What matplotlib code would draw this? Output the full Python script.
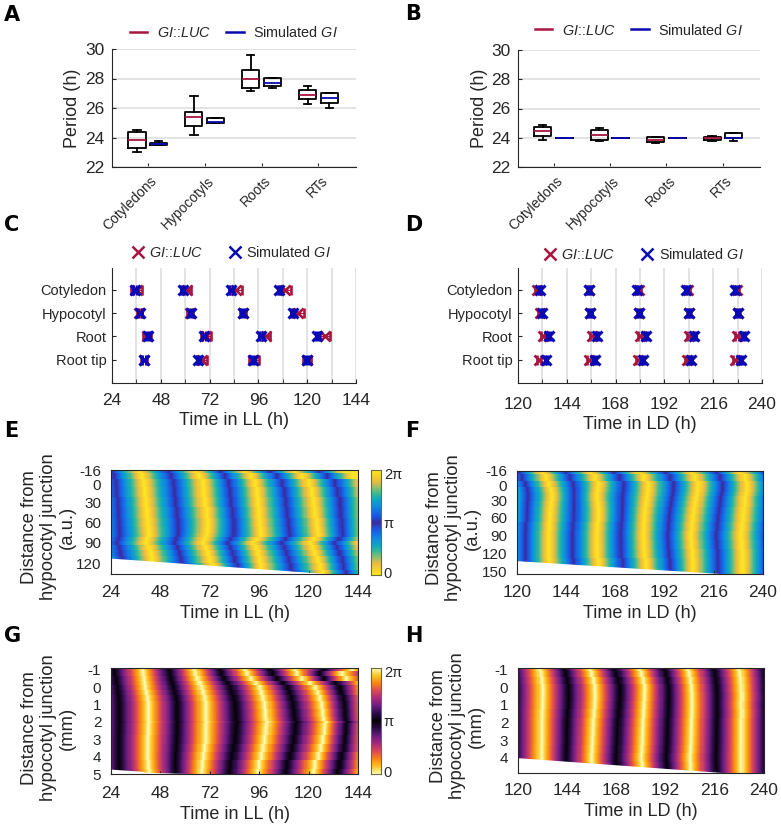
"""
plot.py
Multi-panel figure: period boxplots (A, B), phase markers (C, D)
and phase heatmaps (E-H).
"""

import numpy as np
import matplotlib
matplotlib.use("Agg")
import matplotlib.pyplot as plt
from matplotlib.colors import LinearSegmentedColormap
from matplotlib.lines import Line2D
from matplotlib.transforms import ScaledTranslation

plt.rcParams["font.family"] = ["Liberation Sans", "DejaVu Sans"]
plt.rcParams["mathtext.fontset"] = "custom"
plt.rcParams["mathtext.rm"] = "Liberation Sans"
plt.rcParams["mathtext.it"] = "Liberation Sans:italic"
plt.rcParams["mathtext.default"] = "regular"

# =======================
# Data
# =======================

box_categories = ["Cotyledons", "Hypocotyls", "Roots", "RTs"]

# low whisker, q1, median, q3, high whisker
a_luc = [[23.05, 23.3, 23.8, 24.35, 24.5],
         [24.2, 24.75, 25.4, 25.75, 26.8],
         [27.15, 27.35, 27.95, 28.55, 29.6],
         [26.25, 26.6, 26.85, 27.25, 27.5]]
a_sim = [[23.5, 23.5, 23.55, 23.65, 23.75],
         [25.0, 25.0, 25.02, 25.35, 25.35],
         [27.35, 27.5, 27.7, 28.05, 28.05],
         [26.0, 26.35, 26.65, 27.05, 27.05]]
b_luc = [[23.85, 24.15, 24.45, 24.75, 24.9],
         [23.75, 23.85, 24.2, 24.55, 24.7],
         [23.65, 23.7, 23.85, 24.05, 24.05],
         [23.8, 23.85, 23.95, 24.05, 24.1]]
b_sim = [[24.0, 24.0, 24.0, 24.0, 24.0],
         [24.0, 24.0, 24.0, 24.0, 24.0],
         [24.0, 24.0, 24.0, 24.0, 24.0],
         [23.75, 24.0, 24.0, 24.3, 24.3]]

organs = ["Cotyledon", "Hypocotyl", "Root", "Root tip"]

c_luc = [[36.1, 61.0, 85.0, 109.0],
         [37.3, 62.4, 88.3, 115.6],
         [41.0, 70.2, 99.6, 128.8],
         [39.7, 68.1, 93.8, 119.7]]
c_luc_err = [[2.8, 2.0, 2.8, 3.0],
             [1.0, 1.5, 1.5, 2.8],
             [2.0, 2.4, 2.2, 2.4],
             [1.3, 2.4, 2.4, 2.0]]
c_sim = [[35.3, 58.8, 82.5, 106.3],
         [37.8, 62.7, 88.3, 112.9],
         [41.9, 69.2, 97.3, 125.0],
         [39.7, 66.5, 93.5, 119.7]]
c_sim_err = 0.8

d_luc = [[129.3, 154.8, 179.3, 203.6, 227.7],
         [130.7, 155.6, 179.7, 204.1, 228.0],
         [132.1, 156.4, 180.2, 204.0, 227.7],
         [130.5, 154.8, 178.9, 203.1, 226.6]]
d_luc_err = 1.0
d_sim = [[130.7, 154.8, 178.5, 202.8, 226.6],
         [131.8, 155.6, 179.7, 204.1, 228.0],
         [135.0, 158.9, 183.0, 206.7, 231.0],
         [133.8, 157.7, 181.3, 205.2, 229.8]]
d_sim_err = 0.6

# Heatmaps: time of each yellow crest (phase 0) per depth row
e_depth = [-18, -8, 0, 15, 30, 45, 60, 72, 78, 84, 90, 97, 105, 115, 125, 136]
e_crests = [[11, 37.8, 65.5, 89.0, 113.4, 137.0],
            [12, 39.0, 67.0, 92.0, 117.0, 141.0],
            [13, 40.0, 68.7, 94.0, 120.0, 146.0],
            [13, 40.5, 69.0, 95.0, 121.5, 147.0],
            [14, 41.0, 69.5, 95.5, 122.4, 148.0],
            [14, 41.5, 70.5, 96.0, 123.0, 148.0],
            [14, 42.0, 71.0, 96.4, 124.0, 148.0],
            [14, 42.4, 70.8, 96.8, 124.4, 148.0],
            [14, 42.7, 70.3, 97.0, 124.8, 148.0],
            [14, 41.5, 69.5, 95.0, 122.5, 147.0],
            [13, 41.0, 68.7, 93.0, 120.7, 145.0],
            [14, 42.5, 70.0, 94.5, 122.0, 146.0],
            [14, 43.5, 71.0, 95.5, 123.0, 147.0],
            [15, 44.0, 72.0, 96.3, 124.5, 148.0],
            [15, 44.5, 73.6, 97.0, 125.6, 148.0],
            [15, 45.0, 74.5, 98.0, 127.0, 149.0]]
e_edge_t = [24, 132]
e_edge_depth = [112.5, 136]

f_depth = [-16, -5, 5, 15, 22, 30, 38, 50, 60, 75, 90, 105, 120, 135, 154]
f_crests = [[110, 132.2, 155.8, 179.3, 205.4, 229.0, 254],
            [111, 134.0, 158.0, 182.0, 207.0, 231.0, 255],
            [113, 135.4, 159.8, 184.0, 208.6, 232.0, 256],
            [114, 136.5, 159.5, 184.0, 208.4, 232.0, 256],
            [114, 137.0, 159.0, 183.8, 208.0, 231.5, 256],
            [114, 137.0, 159.0, 183.4, 207.5, 231.0, 255],
            [114, 136.5, 159.5, 183.0, 207.0, 231.0, 255],
            [114, 136.2, 159.8, 182.5, 206.5, 230.5, 255],
            [114, 136.0, 159.8, 182.2, 206.0, 230.2, 255],
            [113, 135.7, 159.2, 182.0, 205.5, 229.8, 254],
            [113, 135.4, 159.0, 181.8, 205.0, 229.3, 254],
            [113, 135.4, 159.0, 182.0, 205.3, 229.6, 254],
            [113, 135.4, 159.0, 182.2, 205.8, 230.0, 254],
            [113, 135.6, 159.8, 183.0, 206.0, 230.0, 254],
            [113, 135.8, 160.0, 183.4, 206.0, 230.0, 254]]
f_edge_t = [120, 223]
f_edge_depth = [132, 154]

g_depth = [-1.1, -0.8, -0.5, -0.2, 0.0, 0.3, 0.6, 1.0, 1.5, 1.9, 2.0, 2.1, 2.5, 3.0, 3.5, 4.0, 4.4, 5.0]
g_crests = [[12, 39.4, 64.7, 89.0, 113.4, 141, 168],
            [12, 39.6, 65.2, 90.0, 114.5, 136, 168],
            [13, 40.0, 66.0, 92.0, 117.0, 138, 168],
            [13, 40.3, 67.0, 94.5, 120.5, 146, 170],
            [14, 40.6, 67.9, 96.4, 123.2, 147, 170],
            [14, 41.2, 68.6, 97.2, 124.4, 147, 170],
            [14, 41.8, 69.4, 98.0, 125.5, 148, 170],
            [14, 42.2, 69.9, 98.8, 126.4, 148, 170],
            [14, 42.2, 69.9, 99.2, 127.0, 148, 170],
            [14, 42.2, 69.9, 99.4, 127.5, 148, 170],
            [14, 42.5, 70.2, 100.2, 128.6, 149, 170],
            [14, 42.2, 69.9, 99.6, 128.0, 148, 170],
            [14, 42.2, 69.9, 99.4, 127.8, 148, 170],
            [14, 41.9, 69.9, 98.8, 127.0, 148, 170],
            [14, 41.9, 69.3, 98.0, 126.0, 148, 170],
            [14, 41.9, 68.7, 97.2, 124.8, 147, 170],
            [14, 42.2, 68.2, 96.0, 123.0, 147, 170],
            [14, 42.7, 67.9, 95.5, 122.4, 146, 170]]
g_edge_t = [24, 40, 40, 70]
g_edge_depth = [4.72, 4.85, 4.9, 5.0]

h_depth = [-1.1, -0.8, -0.4, 0.0, 0.5, 1.0, 1.5, 2.0, 2.5, 3.0, 3.5, 4.0, 4.5, 4.87]
h_crests = [[105, 130.6, 155.0, 179.4, 203.0, 228.0, 253],
            [105, 131.0, 155.8, 180.2, 203.6, 228.4, 253],
            [105, 131.5, 156.8, 181.2, 204.2, 228.8, 253],
            [105, 131.9, 157.5, 181.9, 204.7, 229.0, 253],
            [105, 131.9, 157.6, 181.8, 204.9, 229.2, 253],
            [105, 131.8, 157.4, 181.5, 205.0, 229.0, 253],
            [105, 131.6, 157.0, 181.3, 204.9, 229.2, 253],
            [105, 131.5, 156.6, 181.0, 204.7, 229.0, 253],
            [105, 131.5, 156.4, 180.8, 204.6, 229.0, 253],
            [105, 131.5, 156.2, 180.7, 204.5, 229.0, 253],
            [105, 131.4, 156.0, 180.5, 204.3, 229.0, 253],
            [105, 131.4, 155.8, 180.2, 204.0, 229.0, 253],
            [105, 131.8, 156.0, 180.6, 204.2, 229.0, 253],
            [105, 132.0, 156.5, 181.0, 204.5, 229.0, 253]]
h_edge_t = [120, 223]
h_edge_depth = [4.0, 4.87]

# Colour stops from phase 0 to pi; the second half mirrors them
blue_stops = ["#fbe625", "#f8d02c", "#e8bc40", "#8cc070", "#3cb895", "#0fa8c0",
              "#1090dc", "#1470e6", "#2050d8", "#3a2aa0"]
hot_stops = ["#fcfdb0", "#fcc229", "#f98512", "#d9485a", "#a32c7a",
             "#6a1c80", "#2c0c45", "#050208"]

red = "#a6163f"
blue = "#0a0ab4"
dark = "#262626"
grid_col = "#dedede"

# =======================
# Helpers
# =======================

def px_axes(fig, left, top, right, bottom):
    """Axes from pixel coordinates of the 781x827 image."""
    return fig.add_axes([left / 781, 1 - bottom / 827,
                         (right - left) / 781, (bottom - top) / 827])


def mirror_cmap(stops, name):
    return LinearSegmentedColormap.from_list(name, stops + stops[-2::-1], N=512)


def make_stats(rows):
    return [dict(whislo=r[0], q1=r[1], med=r[2], q3=r[3], whishi=r[4], fliers=[])
            for r in rows]


def draw_boxes(ax, luc, sim, legend_y, ylabel_pad):
    pos = np.arange(1, 5)
    for rows, offset, col in [(luc, -0.19, red), (sim, 0.19, blue)]:
        ax.bxp(make_stats(rows), positions=pos + offset, widths=0.3,
               showfliers=False, manage_ticks=False,
               boxprops=dict(color="black", lw=1.3),
               whiskerprops=dict(color="black", lw=1.3, ls="-"),
               capprops=dict(color="black", lw=1.3),
               capwidths=0.13,
               medianprops=dict(color=col, lw=1.3))
    ax.set_xlim(0.37, 4.66)
    ax.set_ylim(22, 30)
    ax.set_yticks([22, 24, 26, 28, 30])
    ax.set_xticks(pos)
    ax.set_xticklabels(box_categories, rotation=45, ha="right",
                       rotation_mode="anchor", fontsize=10, color=dark)
    ax.tick_params(axis="y", labelsize=12.5, labelcolor=dark, direction="in",
                   length=3, color=dark, pad=5.5)
    ax.tick_params(axis="x", direction="in", length=3, color=dark, pad=5)
    nudge = ScaledTranslation(2 / 100, 0, ax.figure.dpi_scale_trans)
    for lab in ax.get_xticklabels():
        lab.set_transform(lab.get_transform() + nudge)
    ax.yaxis.grid(True, color=grid_col, lw=1.2)
    ax.set_axisbelow(True)
    for side in ["top", "right"]:
        ax.spines[side].set_visible(False)
    for side in ["left", "bottom"]:
        ax.spines[side].set_color(dark)
    ax.set_ylabel("Period (h)", fontsize=13, color=dark, labelpad=ylabel_pad)
    handles = [Line2D([], [], color=red, lw=1.8),
               Line2D([], [], color=blue, lw=1.8)]
    ax.legend(handles, [r"$\mathit{GI}$::$\mathit{LUC}$", r"Simulated $\mathit{GI}$"],
              ncol=2, frameon=False, fontsize=10.4, labelcolor=dark,
              loc="lower center", bbox_to_anchor=(0.5, legend_y),
              handlelength=1.2, columnspacing=1.1, handletextpad=0.65,
              borderaxespad=0.3)


def draw_phases(ax, luc, luc_err, sim, sim_err, xlim, xlabel, legend_x, legend_y, xpad):
    rows = np.arange(1, 5)
    for i in range(4):
        xs = np.array(luc[i])
        ys = np.full(len(xs), rows[i])
        ax.errorbar(xs, ys, xerr=luc_err[i] if np.ndim(luc_err) else luc_err,
                    fmt="x", color=red, ms=7, mew=1.9, capsize=3.5, capthick=1.2,
                    elinewidth=0.8, zorder=3)
    for i in range(4):
        xs = np.array(sim[i])
        ys = np.full(len(xs), rows[i])
        ax.errorbar(xs, ys, xerr=sim_err, fmt="x", color=blue, ms=7, mew=2.2,
                    capsize=3.5, capthick=1.2, elinewidth=0.8, zorder=4)
    ax.set_xlim(*xlim)
    ax.set_ylim(5.0, 0.07)
    ax.set_yticks(rows)
    ax.set_yticklabels(organs, fontsize=10.5, color=dark)
    ax.set_xticks(np.arange(xlim[0], xlim[1] + 1, 24))
    ax.set_xticks(np.arange(xlim[0], xlim[1] + 1, 12), minor=True)
    ax.tick_params(axis="x", which="major", labelsize=12.5, labelcolor=dark,
                   direction="in", length=3, color=dark, pad=xpad)
    ax.tick_params(axis="x", which="minor", direction="in", length=3, color=dark)
    ax.tick_params(axis="y", direction="in", length=3, color=dark, pad=4)
    ax.xaxis.grid(True, which="both", color=grid_col, lw=1.2)
    ax.set_axisbelow(True)
    for side in ["top", "right"]:
        ax.spines[side].set_visible(False)
    for side in ["left", "bottom"]:
        ax.spines[side].set_color(dark)
    ax.set_xlabel(xlabel, fontsize=13, color=dark, labelpad=3)
    handles = [Line2D([], [], color=red, marker="x", ls="", ms=8, mew=1.8),
               Line2D([], [], color=blue, marker="x", ls="", ms=8, mew=1.8)]
    ax.legend(handles, [r"$\mathit{GI}$::$\mathit{LUC}$", r"Simulated $\mathit{GI}$"],
              ncol=2, frameon=False, fontsize=10.4, labelcolor=dark,
              loc="lower center", bbox_to_anchor=(legend_x, legend_y),
              handlelength=0.8, columnspacing=1.8, handletextpad=0.4,
              borderaxespad=0.2)


def phase_grid(depth, crests, t):
    """Wrapped phase per row: 0 at each read crest, running up to 2 pi at the next."""
    grid = np.zeros((len(depth), len(t)))
    for i, row in enumerate(crests):
        row = np.array(row, dtype=float)
        k = np.clip(np.searchsorted(row, t, side="right") - 1, 0, len(row) - 2)
        grid[i] = 2 * np.pi * (t - row[k]) / (row[k + 1] - row[k])
    return grid


def draw_heatmap(ax, depth, crests, edge_t, edge_depth, cmap, xlim, ylim, yticks,
                 yticklabels, xlabel, ylabel, xpad, label_right, label_mid):
    t = np.arange(xlim[0] + 0.25, xlim[1], 0.5)
    grid = phase_grid(depth, crests, t)
    depth = np.array(depth, dtype=float)
    edges = np.concatenate([[depth[0]], (depth[1:] + depth[:-1]) / 2, [depth[-1]]])
    t_edges = np.arange(xlim[0], xlim[1] + 0.25, 0.5)
    ax.pcolormesh(t_edges, edges, grid, cmap=cmap, vmin=0, vmax=2 * np.pi,
                  shading="flat", rasterized=True)
    # white wedge under the last tracked position of the tissue
    ax.fill_between(edge_t + [xlim[1]], list(edge_depth) + [edge_depth[-1]], ylim[0],
                    color="white", lw=0, zorder=2)
    ax.set_xlim(*xlim)
    ax.set_ylim(*ylim)
    ax.set_xticks(np.arange(xlim[0], xlim[1] + 1, 24))
    ax.set_yticks(yticks)
    ax.set_yticklabels(yticklabels)
    ax.tick_params(axis="x", labelsize=12.5, labelcolor=dark, direction="in",
                   length=2.5, color=dark, pad=xpad)
    ax.tick_params(axis="y", labelsize=11, labelcolor=dark, length=0, pad=7)
    for side in ax.spines:
        ax.spines[side].set_color(dark)
        ax.spines[side].set_linewidth(0.8)
        ax.spines[side].set_zorder(5)
    ax.set_xlabel(xlabel, fontsize=13, color=dark, labelpad=3.5)
    ax.set_ylabel(ylabel, fontsize=13.3, color=dark, linespacing=1.15)
    # label block placed by the pixel position of its right edge and centre
    box = ax.get_position()
    x_frac = (label_right / 781 - box.x0) / box.width
    y_frac = ((1 - label_mid / 827) - box.y0) / box.height
    ax.yaxis.set_label_coords(x_frac, y_frac)


def draw_colorbar(ax, cmap):
    ramp = np.linspace(0, 2 * np.pi, 256).reshape(-1, 1)
    ax.imshow(ramp, origin="lower", aspect="auto", cmap=cmap, extent=[0, 1, 0, 2 * np.pi])
    ax.set_xticks([])
    ax.yaxis.tick_right()
    ax.set_yticks([0.12, np.pi, 2 * np.pi - 0.2])
    ax.set_yticklabels(["0", "\u03c0", "2\u03c0"])
    ax.tick_params(axis="y", labelsize=10.5, labelcolor=dark, length=0, pad=2)
    for side in ax.spines:
        ax.spines[side].set_color("#6b6b45")
        ax.spines[side].set_linewidth(0.8)


# =======================
# Figure
# =======================

fig = plt.figure(figsize=(7.81, 8.27), dpi=100)
cmap_blue = mirror_cmap(blue_stops, "phase_blue")
cmap_hot = mirror_cmap(hot_stops, "phase_hot")

ax_a = px_axes(fig, 112, 49, 356, 167)
draw_boxes(ax_a, a_luc, a_sim, 0.99, 3)
ax_b = px_axes(fig, 518, 50, 760, 167)
draw_boxes(ax_b, b_luc, b_sim, 1.02, 2.5)

ax_c = px_axes(fig, 112, 268, 356, 383)
draw_phases(ax_c, c_luc, c_luc_err, c_sim, c_sim_err, (24, 144), "Time in LL (h)", 0.49, 0.99, 7)
ax_d = px_axes(fig, 518, 268, 762, 383)
draw_phases(ax_d, d_luc, d_luc_err, d_sim, d_sim_err, (120, 240), "Time in LD (h)", 0.515, 0.98, 10)

junction = "Distance from\nhypocotyl junction\n"
ax_e = px_axes(fig, 111, 470, 358, 574)
draw_heatmap(ax_e, e_depth, e_crests, e_edge_t, e_edge_depth, cmap_blue, (24, 144),
             (136, -18), [-18, 4.2, 30, 60, 90, 120], ["-16", "0", "30", "60", "90", "120"],
             "Time in LL (h)", junction + "(a.u.)", 8, 76, 527)
ax_f = px_axes(fig, 517, 471, 763, 574)
draw_heatmap(ax_f, f_depth, f_crests, f_edge_t, f_edge_depth, cmap_blue, (120, 240),
             (154, -16), [-16, 8, 32, 60, 90, 120, 150],
             ["-16", "0", "30", "60", "90", "120", "150"],
             "Time in LD (h)", junction + "(a.u.)", 8, 481, 528)
ax_g = px_axes(fig, 111, 668, 358, 774)
draw_heatmap(ax_g, g_depth, g_crests, g_edge_t, g_edge_depth, cmap_hot, (24, 144),
             (5.0, -1.1), [-1, 0, 1, 2, 3, 4, 5], ["-1", "0", "1", "2", "3", "4", "5"],
             "Time in LL (h)", junction + "(mm)", 9, 76, 728)
ax_h = px_axes(fig, 518, 668, 764, 773)
draw_heatmap(ax_h, h_depth, h_crests, h_edge_t, h_edge_depth, cmap_hot, (120, 240),
             (4.87, -1.1), [-1, 0, 1, 2, 3, 4], ["-1", "0", "1", "2", "3", "4"],
             "Time in LD (h)", junction + "(mm)", 7.5, 485, 726)

draw_colorbar(px_axes(fig, 371, 470, 381, 575), cmap_blue)
draw_colorbar(px_axes(fig, 371, 668, 381, 774), cmap_hot)

letters = [("A", 4, 15), ("B", 405, 14), ("C", 4, 225), ("D", 405, 225),
           ("E", 4, 431), ("F", 405, 431), ("G", 4, 636), ("H", 405, 636)]
for letter, x, y in letters:
    fig.text(x / 781, 1 - y / 827, letter, fontsize=15, fontweight="bold",
             family="DejaVu Sans", va="center", ha="left", color="black")

fig.savefig("out.png", dpi=100)
